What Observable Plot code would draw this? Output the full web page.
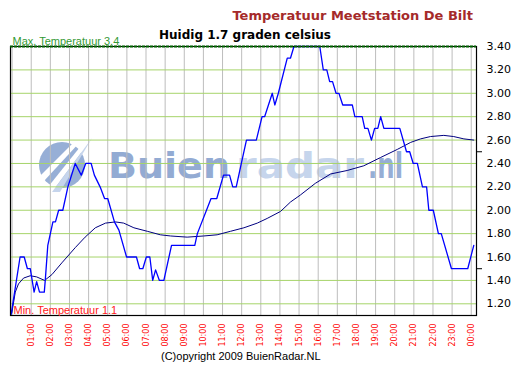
<!DOCTYPE html>
<html>
<head>
<meta charset="utf-8">
<script src="https://cdn.jsdelivr.net/npm/d3@7"></script>
<script src="https://cdn.jsdelivr.net/npm/@observablehq/plot@0.6"></script>
<style>
  html, body { margin: 0; padding: 0; background: #fff; }
  #chart { width: 517px; height: 369px; position: relative; }
</style>
</head>
<body>
<div id="chart"></div>
<script>
// Temperature readings (minutes since midnight, °C)
const tempMinutes = [-3,25,38,48,57,69,77,86,101,104,112,128,136,146,159,175,198,217,231,248,258,276,290,300,321,335,359,390,400,410,421,432,441,450,462,476,500,573,581,624,642,663,682,692,703,719,735,766,784,792,816,824,835,863,873,884,965,976,987,996,1005,1016,1025,1037,1067,1075,1098,1106,1116,1127,1137,1147,1156,1166,1216,1237,1247,1258,1271,1287,1300,1307,1321,1337,1346,1378,1429,1448];
const tempValues = [1.11,1.6,1.6,1.5,1.5,1.3,1.39,1.3,1.3,1.4,1.7,1.9,1.9,2.0,2.0,2.2,2.4,2.3,2.4,2.4,2.3,2.2,2.1,2.1,1.9,1.83,1.6,1.6,1.5,1.5,1.6,1.6,1.4,1.49,1.4,1.4,1.7,1.7,1.8,2.1,2.1,2.3,2.3,2.2,2.2,2.4,2.6,2.6,2.8,2.8,3.0,2.9,3.0,3.3,3.3,3.4,3.4,3.2,3.2,3.1,3.1,3.0,3.0,2.9,2.9,2.8,2.8,2.7,2.7,2.6,2.7,2.7,2.8,2.7,2.7,2.5,2.5,2.4,2.4,2.2,2.2,2.0,2.0,1.8,1.8,1.5,1.5,1.7];

// Smoothed (average) series
const avgMinutes = [-1,10,20,36,57,77,102,125,156,198,229,261,293,324,350,382,424,465,497,549,601,643,685,727,769,800,842,873,904,951,999,1051,1103,1155,1208,1250,1281,1312,1354,1385,1417,1448];
const avgValues = [1.12,1.30,1.37,1.42,1.44,1.43,1.40,1.45,1.55,1.68,1.77,1.85,1.89,1.90,1.89,1.85,1.82,1.79,1.78,1.77,1.78,1.79,1.82,1.85,1.89,1.93,1.99,2.07,2.13,2.23,2.31,2.34,2.38,2.45,2.52,2.58,2.61,2.63,2.64,2.63,2.61,2.60];

const maxTemp = 3.4;
const minTemp = 1.1;
const currentTemp = 1.7;

const yTicks = [1.2,1.4,1.6,1.8,2.0,2.2,2.4,2.6,2.8,3.0,3.2,3.4];
const yMinorTicks = [1.5, 2.5];
const hourTicks = [1,2,3,4,5,6,7,8,9,10,11,12,13,14,15,16,17,18,19,20,21,22,23,24];
const hourGrid = [0, ...hourTicks];

const temps = tempMinutes.map((m, i) => ({m, v: tempValues[i]}));
const avgs = avgMinutes.map((m, i) => ({m, v: avgValues[i]}));

const fmtHour = h => String(h % 24).padStart(2, "0") + ":00";

const svg = Plot.plot({
  width: 517,
  height: 369,
  marginTop: 46,
  marginBottom: 54,
  marginLeft: 10,
  marginRight: 41,
  x: {domain: [-5, 1456.5]},
  y: {domain: [minTemp, maxTemp]},
  style: {fontFamily: "DejaVu Sans", background: "white", overflow: "visible"},
  marks: [
    Plot.ruleX(hourGrid, {x: d => d * 60, stroke: "#bdbdbd", strokeWidth: 1}),
    Plot.ruleY(yTicks, {stroke: "#a6d46a", strokeWidth: 1}),
    Plot.axisX({
      ticks: hourTicks.map(h => h * 60),
      tickFormat: m => fmtHour(m / 60),
      tickRotate: -90, tickSize: 0, tickPadding: 8,
      fontSize: 8, fill: "#ff0000", label: null
    }),
    Plot.axisY({
      anchor: "right", ticks: yTicks, tickFormat: d => d.toFixed(2),
      tickSize: 0, tickPadding: 10, fontSize: 11, fill: "#000", label: null
    }),
    Plot.axisY({
      anchor: "right", ticks: yMinorTicks, tickFormat: () => "",
      tickSize: 5, label: null, stroke: "#000"
    }),
    Plot.line(avgs, {x: "m", y: "v", stroke: "#000080", strokeWidth: 1}),
    Plot.line(temps, {x: "m", y: "v", stroke: "#0000ff", strokeWidth: 1.3}),
    Plot.frame({stroke: "#000", strokeWidth: 1.2}),
    Plot.ruleY([maxTemp], {stroke: "#006400", strokeWidth: 2, strokeDasharray: "3,1"}),
    Plot.text([`Max. Temperatuur ${maxTemp}`], {
      frameAnchor: "left", y: () => maxTemp, text: d => d, dx: 2, dy: -2,
      lineAnchor: "bottom", textAnchor: "start",
      fill: "#339933", fontSize: 11, fontFamily: "Liberation Sans"
    }),
    Plot.text([`Min. Temperatuur ${minTemp}`], {
      frameAnchor: "left", y: () => minTemp, text: d => d, dx: 3, dy: -2,
      lineAnchor: "bottom", textAnchor: "start",
      fill: "#ff2020", fontSize: 11, fontFamily: "Liberation Sans"
    })
  ]
});

// Watermark (behind grid)
const wm = d3.create("svg:g");
wm.append("circle").attr("cx", 62).attr("cy", 165).attr("r", 23).attr("fill", "#97afd6");
wm.append("polygon").attr("points", "44,192 52,192 92,138 84,142").attr("fill", "#ffffff");
wm.append("polygon").attr("points", "52,192 60,192 92,138").attr("fill", "#c6d5ec");
wm.append("polygon").attr("points", "40,176 44,181 80,142 74,142").attr("fill", "#ffffff");
const wmText = [
  {t: "Buien", x: 108, w: 122, c: "#93abd3"},
  {t: "radar", x: 236, w: 128, c: "#c6d5ec"},
  {t: ".nl", x: 368, w: 35, c: "#96aed5"}
];
for (const d of wmText) {
  wm.append("text").attr("x", d.x).attr("y", 178).attr("text-anchor", "start")
    .attr("font-family", "DejaVu Sans").attr("font-weight", "bold").attr("font-size", 35)
    .attr("textLength", d.w).attr("lengthAdjust", "spacingAndGlyphs")
    .attr("fill", d.c).text(d.t);
}
svg.insertBefore(wm.node(), svg.querySelector("g"));

// Titles and caption
const sel = d3.select(svg);
sel.append("text").attr("x", 473).attr("y", 19.5).attr("text-anchor", "end")
  .attr("font-family", "DejaVu Sans").attr("font-weight", "bold").attr("font-size", 13)
  .attr("fill", "#a52a2a").text("Temperatuur Meetstation De Bilt");
sel.append("text").attr("x", 159).attr("y", 38.5).attr("text-anchor", "start")
  .attr("font-family", "DejaVu Sans").attr("font-weight", "bold").attr("font-size", 12)
  .attr("fill", "#000").text(`Huidig ${currentTemp} graden celsius`);
sel.append("text").attr("x", 161).attr("y", 359.5).attr("text-anchor", "start")
  .attr("font-family", "Liberation Sans").attr("font-size", 11)
  .attr("fill", "#000").text("(C)opyright 2009 BuienRadar.NL");

document.getElementById("chart").appendChild(svg);
</script>
</body>
</html>
